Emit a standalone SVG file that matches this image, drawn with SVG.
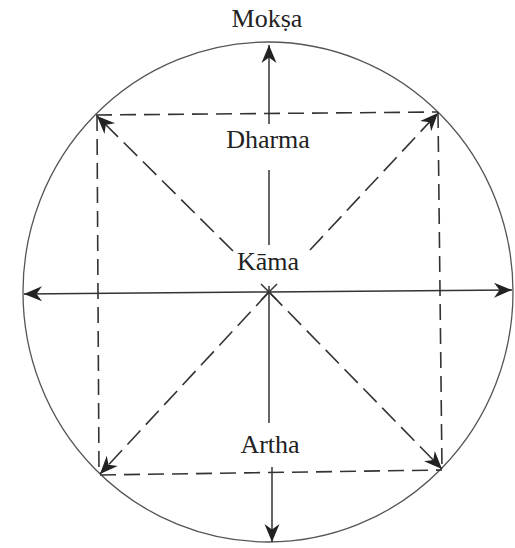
<svg xmlns="http://www.w3.org/2000/svg" width="515" height="548" viewBox="0 0 515 548">
<style>
.lbl{font-family:"Liberation Serif","Times New Roman",serif;font-size:26px;fill:#222;text-anchor:middle}
.ln{stroke:#333;stroke-width:1.5;fill:none}
.dash{stroke:#333;stroke-width:1.6;fill:none;stroke-dasharray:16 8}
.diag{stroke:#333;stroke-width:1.6;fill:none;stroke-dasharray:19 8}
</style>
<defs>
<marker id="ah" markerUnits="userSpaceOnUse" markerWidth="22" markerHeight="18" viewBox="0 -9 19 18" refX="18" refY="0" orient="auto">
<path d="M0,-7.5 L18,0 L0,7.5 L5.5,0 z" fill="#222"/>
</marker>
</defs>
<rect width="515" height="548" fill="#fff"/>
<g id="circle">
<ellipse cx="268" cy="292" rx="245" ry="250" fill="none" stroke="#555" stroke-width="1.3"/>
</g>
<g id="connectors">
<path class="dash" d="M96,115 L438,112"/>
<path class="dash" d="M100,475 L442,470"/>
<path class="dash" d="M97,115 L99,475"/>
<path class="dash" d="M438,112 L442,470"/>
<path class="ln" d="M261,284 L277,300 M277,284 L261,300"/>
<path class="diag" d="M233,251 L97,116" marker-end="url(#ah)"/>
<path class="diag" d="M310,250 L438,113" marker-end="url(#ah)"/>
<path class="diag" d="M269,292 L100,474" marker-end="url(#ah)"/>
<path class="diag" d="M269,292 L442,469" marker-end="url(#ah)"/>
<path class="ln" d="M269,292 L24,294" marker-end="url(#ah)"/>
<path class="ln" d="M269,292 L512,290" marker-end="url(#ah)"/>
<path class="ln" d="M269,124 L269,45" marker-end="url(#ah)"/>
<path class="ln" d="M269,170 L269,245"/>
<path class="ln" d="M269,286 L269,423"/>
<path class="ln" d="M272,467 L272,542" marker-end="url(#ah)"/>
</g>
<g id="moksa"><text class="lbl" x="267" y="27">Mokṣa</text></g>
<g id="dharma"><text class="lbl" x="268" y="148">Dharma</text></g>
<g id="kama"><text class="lbl" x="268" y="270">Kāma</text></g>
<g id="artha"><text class="lbl" x="270" y="453">Artha</text></g>
</svg>
